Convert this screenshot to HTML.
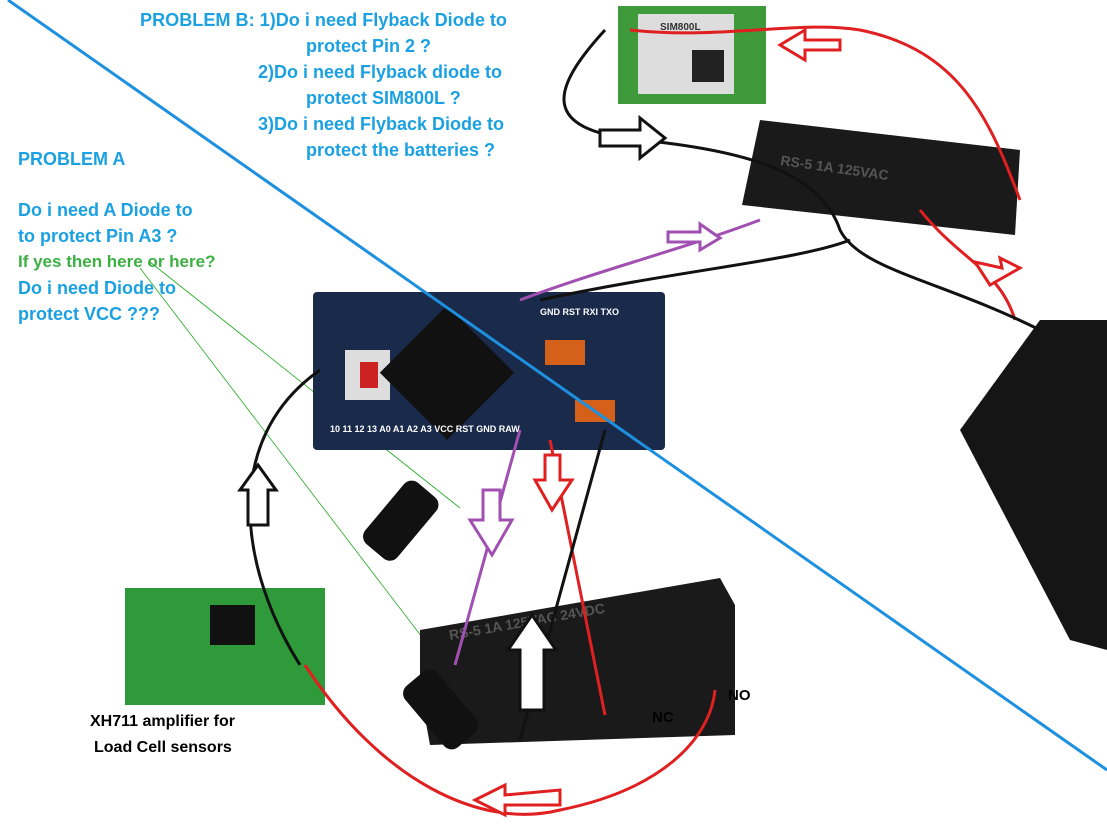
<!DOCTYPE html>
<html><head><meta charset="utf-8"><style>
html,body{margin:0;padding:0;background:#fff}
svg{display:block}
text{font-family:"Liberation Sans",sans-serif;font-weight:bold}
</style></head><body>
<svg width="1107" height="839" viewBox="0 0 1107 839" xmlns="http://www.w3.org/2000/svg">
<rect width="1107" height="839" fill="#fff"/>
<g fill="#1ba1e2" font-size="18">
<text x="140" y="26" textLength="367" lengthAdjust="spacingAndGlyphs">PROBLEM B:  1)Do i need Flyback Diode to</text>
<text x="306" y="52">protect Pin 2 ?</text>
<text x="258" y="78">2)Do i need Flyback diode to</text>
<text x="306" y="104">protect SIM800L ?</text>
<text x="258" y="130">3)Do i need Flyback Diode to</text>
<text x="306" y="156">protect the batteries ?</text>
<text x="18" y="165">PROBLEM A</text>
<text x="18" y="216">Do i need A Diode to</text>
<text x="18" y="242">to protect Pin A3 ?</text>
<text x="18" y="294">Do i need Diode to</text>
<text x="18" y="320">protect VCC ???</text>
</g>
<text x="18" y="267" fill="#3cb043" font-size="17">If yes then here or here?</text>
<line x1="150" y1="262" x2="460" y2="508" stroke="#2a2" stroke-width="0.8"/>
<line x1="140" y1="268" x2="470" y2="700" stroke="#2a2" stroke-width="0.8"/>
<rect x="618" y="6" width="148" height="98" fill="#3e9a3a"/>
<rect x="638" y="14" width="96" height="80" fill="#ddd"/>
<text x="660" y="30" font-size="10" fill="#333">SIM800L</text>
<rect x="692" y="50" width="32" height="32" fill="#222"/>
<polygon points="760,120 1020,150 1015,235 742,205" fill="#1a1a1a"/>
<text x="780" y="165" font-size="14" fill="#555" transform="rotate(8 780 165)">RS-5  1A 125VAC</text>
<polygon points="1040,320 1107,320 1107,650 1070,640 960,430" fill="#151515"/>
<rect x="313" y="292" width="352" height="158" rx="4" fill="#1a2a4a"/>
<rect x="345" y="350" width="45" height="50" fill="#ddd"/>
<rect x="360" y="362" width="18" height="26" fill="#c22"/>
<rect x="400" y="325" width="95" height="95" fill="#111" transform="rotate(45 447 372)"/>
<rect x="545" y="340" width="40" height="25" fill="#d4601a"/>
<rect x="575" y="400" width="40" height="22" fill="#d4601a"/>
<g fill="#fff" font-size="9"><text x="540" y="315">GND RST RXI TXO</text><text x="330" y="432">10 11 12 13 A0 A1 A2 A3 VCC RST GND RAW</text></g>
<rect x="125" y="588" width="200" height="117" fill="#2e9a3a"/>
<rect x="210" y="605" width="45" height="40" fill="#111"/>
<text x="90" y="726" font-size="16" fill="#000">XH711 amplifier for</text>
<text x="94" y="752" font-size="16" fill="#000">Load Cell sensors</text>
<polygon points="420,630 720,578 735,605 735,735 430,745 420,690" fill="#1a1a1a"/>
<text x="450" y="640" font-size="14" fill="#555" transform="rotate(-10 450 640)">RS-5  1A 125VAC 24VDC</text>
<text x="652" y="722" font-size="15" fill="#000">NC</text>
<text x="728" y="700" font-size="15" fill="#000">NO</text>
<rect x="380" y="480" width="42" height="80" rx="10" fill="#111" transform="rotate(40 400 520)"/>
<rect x="420" y="670" width="42" height="80" rx="10" fill="#111" transform="rotate(-40 440 710)"/>
<line x1="8" y1="0" x2="1107" y2="770" stroke="#1e90e0" stroke-width="3"/>
<g fill="none" stroke-width="3">
<path d="M630,30 C720,40 800,20 860,30 C960,50 990,120 1020,200" stroke="#e02020"/>
<path d="M920,210 C960,260 1000,270 1015,320" stroke="#e02020"/>
<path d="M605,30 C550,90 540,130 640,140 C740,150 820,170 840,230 C860,270 940,280 1040,330" stroke="#111"/>
<path d="M540,300 C680,270 800,260 850,240" stroke="#111"/>
<path d="M520,300 C600,270 680,250 760,220" stroke="#a050b0"/>
<path d="M520,430 L455,665" stroke="#a050b0"/>
<path d="M550,440 L605,715" stroke="#e02020"/>
<path d="M605,430 L520,740" stroke="#111"/>
<path d="M320,370 C220,440 240,570 300,665" stroke="#111"/>
<path d="M305,665 C380,780 480,830 560,810 C660,790 710,740 715,690" stroke="#e02020"/>
</g>
<g fill="#fff" stroke-width="3">
<polygon points="600,130 640,130 640,118 665,138 640,158 640,146 600,146" stroke="#111"/>
<polygon points="668,232 700,232 700,224 720,238 700,250 700,242 668,242" stroke="#a050b0"/>
<polygon points="840,40 805,40 805,30 780,45 805,60 805,50 840,50" stroke="#e02020"/>
<polygon points="248,525 248,490 240,490 258,465 276,490 268,490 268,525" stroke="#111"/>
<polygon points="483,490 500,490 500,520 512,520 492,555 470,520 483,520" stroke="#a050b0"/>
<polygon points="545,455 560,455 560,480 572,480 552,510 535,480 545,480" stroke="#e02020"/>
<polygon points="520,710 520,650 508,650 532,615 556,650 544,650 544,710" stroke="#111"/>
<polygon points="560,790 560,805 505,805 505,815 475,800 505,785 505,795" stroke="#e02020"/>
<polygon points="1020,268 1000,258 1002,268 975,262 990,285" stroke="#e02020"/>
</g>
</svg>
</body></html>
